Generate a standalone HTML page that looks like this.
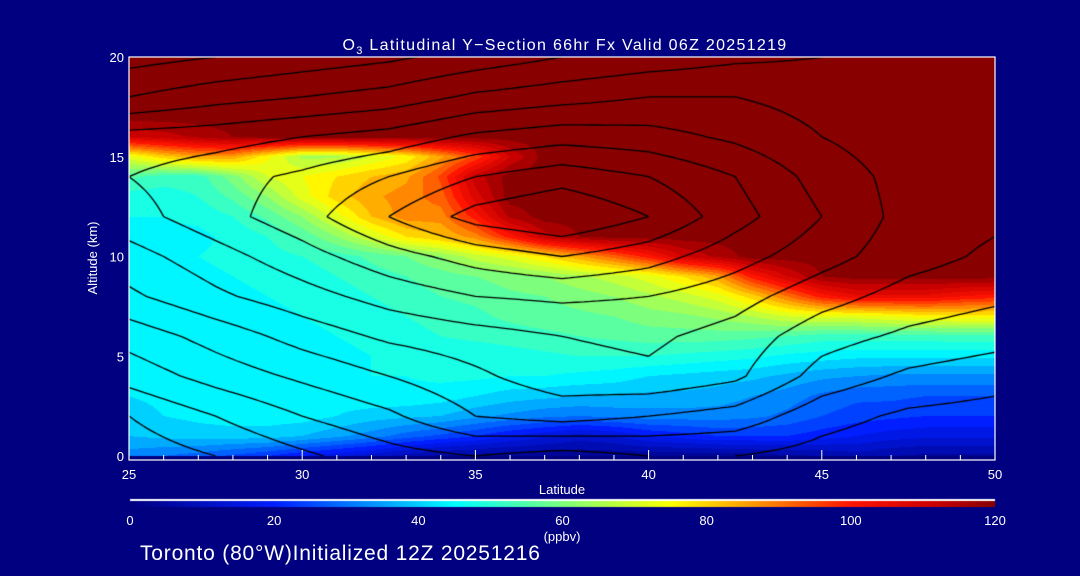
<!DOCTYPE html>
<html><head><meta charset="utf-8"><style>
body{margin:0;background:#000080;width:1080px;height:576px;overflow:hidden;position:relative;font-family:"Liberation Sans",sans-serif;color:#fff}
canvas{position:absolute;left:0;top:0}
svg{position:absolute;left:0;top:0}
</style></head><body>
<canvas id="cv" width="1080" height="576"></canvas>
<svg id="sv" width="1080" height="576"></svg>
<script>
const lats=[25,26,27,28,29,30,31,32,33,34,35,36,37,38,39,40,41,42,43,44,45,46,47,48,49,50];
const alts=[20,19,18,17,16,15,14,13,12,11,10,9,8,7,6,5,4,3,2,1,0];
const R120=[120,120,120,120,120,120,120,120,120,120,120,120,120,120,120,120,120,120,120,120,120,120,120,120,120,120];
const ozone=[
R120,R120,R120,R120,
[110,112,115,118,120,120,120,120,120,120,120,120,120,120,120,120,120,120,120,120,120,120,120,120,120,120],
[72,80,85,85,75,65,65,70,75,85,95,110,120,120,120,120,120,120,120,120,120,120,120,120,120,120],
[55,52,52,60,70,74,78,82,85,95,112,120,120,120,120,120,120,120,120,120,120,120,120,120,120,120],
[48,48,50,55,62,72,80,85,88,92,108,120,120,120,120,120,120,120,120,120,120,120,120,120,120,120],
[46,46,47,50,55,62,72,82,88,88,100,115,120,120,120,120,120,120,120,120,120,120,120,120,120,120],
[45,45,45,47,50,55,62,70,78,82,88,100,112,118,120,120,120,120,120,120,120,120,120,120,120,120],
[45,45,46,47,48,50,52,55,58,62,68,72,78,85,92,100,110,115,120,120,120,120,120,120,120,120],
[45,45,45,46,47,48,50,52,54,56,58,60,62,65,68,72,78,85,100,110,118,120,120,120,120,120],
[45,45,45,45,46,47,48,50,52,54,55,57,58,60,62,65,68,72,80,90,100,105,105,105,102,100],
[45,45,45,45,45,46,47,48,50,52,53,55,56,57,58,60,61,63,66,70,72,72,74,76,76,76],
[46,46,46,46,45,45,46,47,48,50,51,52,53,54,55,56,56,56,55,54,52,52,52,52,53,53],
[45,45,45,45,45,45,45,46,46,47,47,48,49,50,50,50,49,48,47,45,44,43,43,43,43,43],
[43,44,45,45,45,45,45,46,46,47,47,46,46,45,44,42,41,40,39,37,35,34,33,33,33,33],
[42,43,44,44,44,44,44,45,45,44,42,40,39,38,38,37,37,36,34,32,29,27,27,26,26,26],
[40,42,43,44,44,44,42,40,39,38,35,33,31,30,31,32,32,32,31,29,26,24,23,22,22,22],
[38,39,40,40,40,38,35,32,28,25,22,18,15,12,14,18,20,22,22,22,20,18,16,15,15,15],
[32,30,28,25,22,18,15,12,8,5,4,3,3,3,3,3,3,3,4,5,6,8,6,5,5,5]];
const windLats=[25,27.5,30,32.5,35,37.5,40,42.5,45,47.5,50];
const windAlts=[20,18,16,14,12,10,8,6,4,2,0];
const wind=[
[8,10,12,14,17,20,22,24,25,25,26],
[15,18,20,22,26,28,30,30,28,27,27],
[27,28,30,32,36,38,37,34,30,27,26],
[30,33,36,40,45,48,45,40,33,28,26],
[28,33,38,45,52,55,50,42,35,28,26],
[23,28,33,38,42,45,42,37,32,27,24],
[19,24,28,32,35,36,35,32,27,23,21],
[12,17,22,26,28,30,31,28,22,19,17],
[7,12,16,20,24,28,29,26,18,14,12],
[0,5,10,14,20,22,20,18,12,9,8],
[-3,0,4,8,10,8,10,10,8,6,5]];
const windLevels=[0,5,10,15,20,25,30,35,40,45,50,55];
const xTicks=[25,30,35,40,45,50];
const yTicks=[0,5,10,15,20];
const cbTicks=[0,20,40,60,80,100,120];

const L=129,Rt=995,T=57,B=456;
const xs=v=>L+(v-25)/(50-25)*(Rt-L);
const ys=v=>B-(v/20)*(B-T);
const stops=[[0,0,0,128],[20,0,30,255],[35,0,160,255],[45,0,255,255],[55,80,255,170],[65,170,255,80],[75,255,255,0],[85,255,165,0],[100,255,20,0],[112,200,0,0],[120,136,0,0]];
function cmap(v){v=Math.max(0,Math.min(120,v));for(let i=1;i<stops.length;i++){if(v<=stops[i][0]){const a=stops[i-1],b=stops[i],t=(v-a[0])/(b[0]-a[0]);return[a[1]+(b[1]-a[1])*t,a[2]+(b[2]-a[2])*t,a[3]+(b[3]-a[3])*t];}}return stops[stops.length-1].slice(1);}
function bil(grid,gx,gy){const nr=grid.length,nc=grid[0].length;let r0=Math.min(nr-2,Math.max(0,Math.floor(gy))),c0=Math.min(nc-2,Math.max(0,Math.floor(gx)));const tr=gy-r0,tc=gx-c0;
 return (grid[r0][c0]*(1-tc)+grid[r0][c0+1]*tc)*(1-tr)+(grid[r0+1][c0]*(1-tc)+grid[r0+1][c0+1]*tc)*tr;}
const cv=document.getElementById('cv'),ctx=cv.getContext('2d');
const W=Rt-L,H=B-T;
const img=ctx.createImageData(W,H);
for(let py=0;py<H;py++){const alt=(B-(T+py+0.5))/H*20;
 for(let px=0;px<W;px++){const lat=25+(px+0.5)/W*25;
  const v=bil(ozone,lat-25,20-alt);
  const q=Math.round(v/4)*4;const c=cmap(q);const k=(py*W+px)*4;img.data[k]=c[0];img.data[k+1]=c[1];img.data[k+2]=c[2];img.data[k+3]=255;}}
ctx.putImageData(img,L,T);
// contours of wind field (marching squares on upsampled grid)
const NX=120,NY=100;const F=[];
for(let j=0;j<=NY;j++){F.push([]);for(let i=0;i<=NX;i++){const lat=25+i/NX*25,alt=20-j/NY*20;F[j].push(bil(wind,(lat-25)/2.5,(20-alt)/2));}}
const px=i=>L+i/NX*W,py=j=>T+j/NY*H;
ctx.strokeStyle='#000';ctx.lineWidth=1.3;ctx.beginPath();
windLevels.forEach(lv=>{for(let j=0;j<NY;j++)for(let i=0;i<NX;i++){
 const a=F[j][i],b=F[j][i+1],c=F[j+1][i+1],d=F[j+1][i];const pts=[];
 const e=(v1,v2,x1,y1,x2,y2)=>{if((v1<lv)!==(v2<lv)){const t=(lv-v1)/(v2-v1);pts.push([x1+(x2-x1)*t,y1+(y2-y1)*t]);}};
 e(a,b,px(i),py(j),px(i+1),py(j));e(b,c,px(i+1),py(j),px(i+1),py(j+1));e(c,d,px(i+1),py(j+1),px(i),py(j+1));e(d,a,px(i),py(j+1),px(i),py(j));
 for(let k=0;k+1<pts.length;k+=2){ctx.moveTo(pts[k][0],pts[k][1]);ctx.lineTo(pts[k+1][0],pts[k+1][1]);}
}});
ctx.stroke();
// colorbar
for(let x=130;x<995;x++){const c=cmap((x-130)/(995-130)*120);ctx.fillStyle=`rgb(${c[0]|0},${c[1]|0},${c[2]|0})`;ctx.fillRect(x,501,1,6);}
ctx.fillStyle='#fff';ctx.fillRect(130,499,865,2);

const sv=document.getElementById('sv');const NS='http://www.w3.org/2000/svg';
function add(tag,at,txt){const e=document.createElementNS(NS,tag);for(const k in at)e.setAttribute(k,at[k]);if(txt!==undefined)e.textContent=txt;sv.appendChild(e);return e;}
let e;
e=add('rect',{x:L,y:T,width:Rt-L,height:460-T,fill:'none',stroke:'#fff','stroke-width':1.2});


for(let d=25;d<=50;d++){e=add('line',{x1:xs(d),x2:xs(d),y1:460,y2:d%5?455:450,stroke:'#fff'});

}
xTicks.forEach(v=>{e=add('text',{x:xs(v),y:479,'text-anchor':'middle','font-size':13,fill:'#fff'},String(v));

});
yTicks.forEach(v=>{e=add('text',{x:124,y:ys(v)+5,'text-anchor':'end','font-size':13,fill:'#fff'},String(v));

});
cbTicks.forEach(v=>{e=add('text',{x:130+v/120*865,y:525,'text-anchor':'middle','font-size':13,fill:'#fff'},String(v));

});
</script>
<svg width="1080" height="576" style="position:absolute;left:0;top:0">
<text x="565" y="50" text-anchor="middle" font-size="16" letter-spacing="1.3" fill="#fff" font-family="Liberation Sans">O<tspan font-size="11" dy="4">3</tspan><tspan dy="-4"> Latitudinal Y−Section 66hr  Fx Valid 06Z 20251219</tspan></text>
<text x="562" y="494" text-anchor="middle" font-size="13" fill="#fff" font-family="Liberation Sans">Latitude</text>
<text x="97" y="258" text-anchor="middle" font-size="13" fill="#fff" font-family="Liberation Sans" transform="rotate(-90 97 258)">Altitude (km)</text>
<text x="562" y="541" text-anchor="middle" font-size="13" fill="#fff" font-family="Liberation Sans">(ppbv)</text>
<text x="140" y="560" font-size="21" letter-spacing="0.8" fill="#fff" font-family="Liberation Sans">Toronto (80°W)Initialized 12Z 20251216</text>
</svg>
</body></html>
